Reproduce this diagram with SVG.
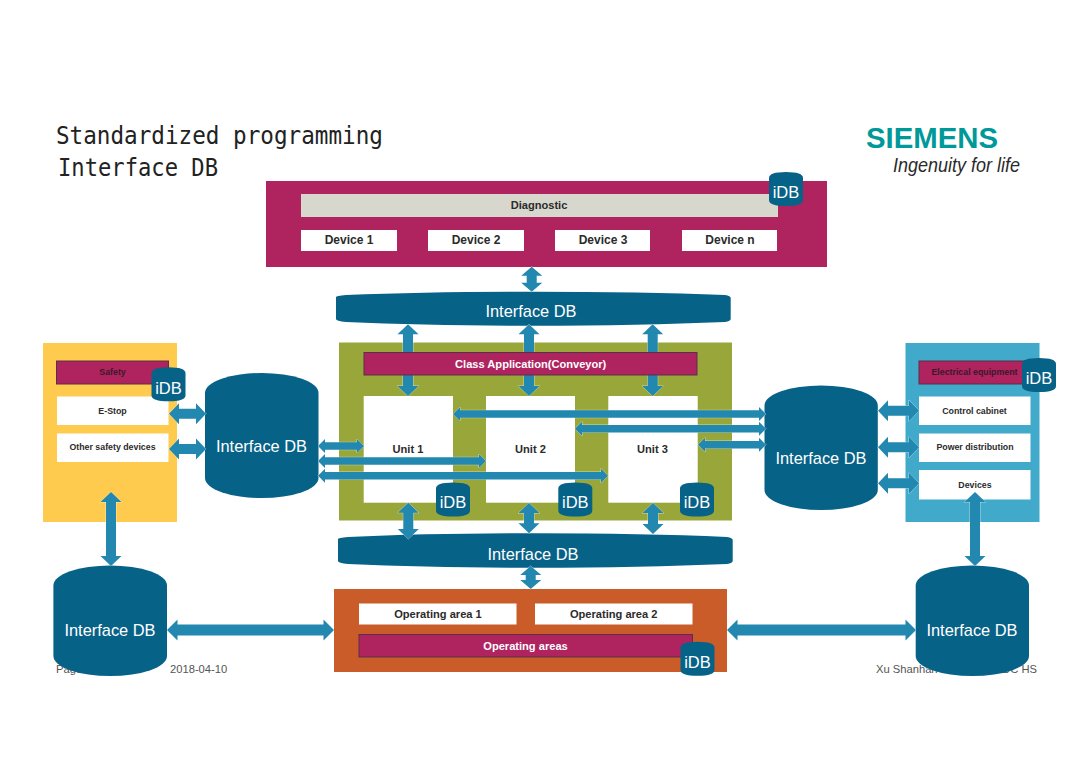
<svg xmlns="http://www.w3.org/2000/svg" width="1080" height="763" viewBox="0 0 1080 763">
  <style>
    text { font-family: "Liberation Sans", Arial, sans-serif; text-anchor: middle; dominant-baseline: central; }
    .title { font-family: "DejaVu Sans Mono", "Liberation Mono", monospace; font-size: 24.5px; fill: #222; text-anchor: start; dominant-baseline: auto; }
    .foot { font-size: 11.2px; fill: #555; }
    .crimson { fill: #AF235F; }
    .bar { fill: #AF235F; stroke: #5A3048; stroke-width: 1; }
    .box { fill: #fff; }
    .db { fill: #076288; }
    .dbt { fill: #fff; font-size: 16.4px; }
    .idbt { fill: #fff; font-size: 16.5px; }
    .lbl { fill: #2b2b2b; font-weight: bold; font-size: 11.1px; }
    .sm { fill: #2b2b2b; font-weight: bold; font-size: 8.8px; }
    .barlbl { fill: #3a1a2a; font-weight: bold; font-size: 8.8px; }
    .wlbl { fill: #fff; font-weight: bold; font-size: 11.1px; }
    #connectors polygon { fill: #2288B0; stroke: #fff; stroke-opacity: .55; stroke-width: 1; paint-order: stroke; }
  </style>
  <defs>
    <path id="can" d="M0 6 Q0 0 17 0 Q34 0 34 6 V28 Q34 34 17 34 Q0 34 0 28 Z"/>
  </defs>

  <rect width="1080" height="763" fill="#fff"/>

  <g id="heading">
    <text class="title" x="56" y="143.5" textLength="327" lengthAdjust="spacingAndGlyphs">Standardized programming</text>
    <text class="title" x="58" y="175.5" textLength="160" lengthAdjust="spacingAndGlyphs">Interface DB</text>
  </g>

  <g id="logo">
    <text x="866" y="138" style="text-anchor:start" font-size="29" font-weight="bold" fill="#009999" textLength="132" lengthAdjust="spacingAndGlyphs">SIEMENS</text>
    <text x="893" y="165" style="text-anchor:start" font-family="Liberation Serif" font-size="20" font-style="italic" fill="#2a2a2a" textLength="127" lengthAdjust="spacingAndGlyphs">Ingenuity for life</text>
  </g>

  <g id="footer">
    <text class="foot" x="56" y="669" style="text-anchor:start">Page</text>
    <text class="foot" x="170" y="669" style="text-anchor:start">2018-04-10</text>
    <text class="foot" x="876" y="669" style="text-anchor:start">Xu Shanhan</text>
    <text class="foot" x="1037" y="669" style="text-anchor:end">DC HS</text>
  </g>

  <g id="diagnostic-panel">
    <rect class="crimson" x="266" y="181" width="561" height="86"/>
    <rect x="301" y="194" width="477" height="23" fill="#D7D7CD"/>
    <text class="lbl" x="539" y="205">Diagnostic</text>
  </g>
  <g id="device-1"><rect class="box" x="301" y="230" width="96" height="21"/><text class="lbl" style="font-size:12px" x="349" y="240">Device 1</text></g>
  <g id="device-2"><rect class="box" x="428" y="230" width="96" height="21"/><text class="lbl" style="font-size:12px" x="476" y="240">Device 2</text></g>
  <g id="device-3"><rect class="box" x="555" y="230" width="95" height="21"/><text class="lbl" style="font-size:12px" x="603" y="240">Device 3</text></g>
  <g id="device-n"><rect class="box" x="682" y="230" width="95" height="21"/><text class="lbl" style="font-size:12px" x="730" y="240">Device n</text></g>

  <g id="safety-panel">
    <rect x="43" y="343" width="134" height="179" fill="#FFCB4F"/>
    <rect class="bar" x="56.5" y="361" width="112" height="23"/>
    <text class="barlbl" x="112.5" y="372">Safety</text>
    <rect class="box" x="57" y="396.5" width="111.5" height="28.5"/>
    <text class="sm" x="112.5" y="411">E-Stop</text>
    <rect class="box" x="57" y="433.5" width="111.5" height="28.5"/>
    <text class="sm" x="112.5" y="447">Other safety devices</text>
  </g>

  <g id="electrical-panel">
    <rect x="905.5" y="343" width="134" height="179" fill="#41A9C9"/>
    <rect class="bar" x="919" y="361" width="112" height="23"/>
    <text class="barlbl" x="974.5" y="372">Electrical equipment</text>
    <rect class="box" x="919" y="396.5" width="111.5" height="28.5"/>
    <text class="sm" x="974.5" y="411">Control cabinet</text>
    <rect class="box" x="919" y="433.5" width="111.5" height="28.5"/>
    <text class="sm" x="975" y="447">Power distribution</text>
    <rect class="box" x="919" y="470" width="111.5" height="29.5"/>
    <text class="sm" x="975" y="485">Devices</text>
  </g>

  <g id="application-panel">
    <rect x="339" y="342.5" width="393" height="178" fill="#99A73A"/>
    <rect class="box" x="363.7" y="396" width="89.3" height="106.7"/>
    <rect class="box" x="486" y="396" width="89" height="106.7"/>
    <rect class="box" x="608.3" y="396" width="89.4" height="106.7"/>
    <text class="lbl" x="408" y="449">Unit 1</text>
    <text class="lbl" x="530.5" y="449">Unit 2</text>
    <text class="lbl" x="652.5" y="449">Unit 3</text>
  </g>

  <g id="operating-panel">
    <rect x="334" y="589" width="393" height="83" fill="#C95C28"/>
    <rect class="box" x="359" y="603.5" width="157.5" height="21"/>
    <text class="lbl" x="438" y="614">Operating area 1</text>
    <rect class="box" x="535" y="603.5" width="157.5" height="21"/>
    <text class="lbl" x="613.7" y="614">Operating area 2</text>
  </g>

  <g id="db-upper">
    <path class="db" d="M336 297 Q336 296 346 295 Q430 291.7 533 291.7 Q640 291.7 725 295 Q730.7 296 730.7 298 V319 Q730.7 321 725 322 Q640 325.7 533 325.7 Q430 325.7 346 322 Q336 321 336 319 Z"/>
    <text class="dbt" x="531" y="311">Interface DB</text>
  </g>
  <g id="db-lower">
    <path class="db" d="M338 539 Q338 538 348 537 Q432 533.3 535 533.3 Q642 533.3 727 537 Q732.7 538 732.7 540 V561 Q732.7 563 727 564 Q642 567.7 535 567.7 Q432 567.7 348 564 Q338 563 338 561 Z"/>
    <text class="dbt" x="533" y="554">Interface DB</text>
  </g>
  <g id="db-left">
    <path class="db" d="M205 393 A56.75 20 0 0 1 318.5 393 V478 A56.75 20 0 0 1 205 478 Z"/>
    <text class="dbt" x="261.5" y="446">Interface DB</text>
  </g>
  <g id="db-right">
    <path class="db" d="M764.5 405.5 A56.65 20 0 0 1 877.8 405.5 V490 A56.65 20 0 0 1 764.5 490 Z"/>
    <text class="dbt" x="821" y="458">Interface DB</text>
  </g>
  <g id="db-bottom-left">
    <path class="db" d="M53.4 585.5 A56.8 20 0 0 1 167 585.5 V656 A56.8 20 0 0 1 53.4 656 Z"/>
    <text class="dbt" x="110" y="630">Interface DB</text>
  </g>
  <g id="db-bottom-right">
    <path class="db" d="M915.7 585.5 A56.65 20 0 0 1 1029 585.5 V656 A56.65 20 0 0 1 915.7 656 Z"/>
    <text class="dbt" x="972" y="630">Interface DB</text>
  </g>

  <g id="connectors">
    <polygon points="531.7,266.7 542.2,275.7 536.7,275.7 536.7,282.7 542.2,282.7 531.7,291.7 521.2,282.7 526.7,282.7 526.7,275.7 521.2,275.7"/>
    <polygon points="530.7,566 541.2,575 535.7,575 535.7,580 541.2,580 530.7,589 520.2,580 525.7,580 525.7,575 520.2,575"/>
    <polygon points="408,324.3 418.5,334.3 413,334.3 413,386 418.5,386 408,396 397.5,386 403,386 403,334.3 397.5,334.3"/>
    <polygon points="529,324.3 539.5,334.3 534,334.3 534,386 539.5,386 529,396 518.5,386 524,386 524,334.3 518.5,334.3"/>
    <polygon points="652.7,324.3 663.2,334.3 657.7,334.3 657.7,386 663.2,386 652.7,396 642.2,386 647.7,386 647.7,334.3 642.2,334.3"/>
    <polygon points="408.3,502.7 418.8,512.7 413.3,512.7 413.3,529 418.8,529 408.3,539 397.8,529 403.3,529 403.3,512.7 397.8,512.7"/>
    <polygon points="529,503 539.5,513 534,513 534,523.3 539.5,523.3 529,533.3 518.5,523.3 524,523.3 524,513 518.5,513"/>
    <polygon points="653,503 663.5,513 658,513 658,524 663.5,524 653,534 642.5,524 648,524 648,513 642.5,513"/>
    <polygon points="169,413.7 179,403.2 179,408.7 196,408.7 196,403.2 206,413.7 196,424.2 196,418.7 179,418.7 179,424.2"/>
    <polygon points="169,449 179,438.5 179,444 196,444 196,438.5 206,449 196,459.5 196,454 179,454 179,459.5"/>
    <polygon points="318,446 325,439 325,442.3 357,442.3 357,439 364,446 357,453 357,449.7 325,449.7 325,453"/>
    <polygon points="318,461 325,454 325,457.3 479,457.3 479,454 486,461 479,468 479,464.7 325,464.7 325,468"/>
    <polygon points="318,475.7 325,468.7 325,472 601,472 601,468.7 608,475.7 601,482.7 601,479.4 325,479.4 325,482.7"/>
    <polygon points="453,414 460,407 460,410.3 759,410.3 759,407 766,414 759,421 759,417.7 460,417.7 460,421"/>
    <polygon points="575,428.7 582,421.7 582,425 759,425 759,421.7 766,428.7 759,435.7 759,432.4 582,432.4 582,435.7"/>
    <polygon points="698,444.7 705,437.7 705,441 759,441 759,437.7 766,444.7 759,451.7 759,448.4 705,448.4 705,451.7"/>
    <polygon points="878,410.7 888,400.2 888,405.7 909,405.7 909,400.2 919,410.7 909,421.2 909,415.7 888,415.7 888,421.2"/>
    <polygon points="878,447.3 888,436.8 888,442.3 909,442.3 909,436.8 919,447.3 909,457.8 909,452.3 888,452.3 888,457.8"/>
    <polygon points="878,483.3 888,472.8 888,478.3 909,478.3 909,472.8 919,483.3 909,493.8 909,488.3 888,488.3 888,493.8"/>
    <polygon points="111,492 121.5,502 116,502 116,556 121.5,556 111,566 100.5,556 106,556 106,502 100.5,502"/>
    <polygon points="975,492 985.5,502 980,502 980,556 985.5,556 975,566 964.5,556 970,556 970,502 964.5,502"/>
    <polygon points="167,630 177.5,619.5 177.5,624.5 323.5,624.5 323.5,619.5 334,630 323.5,640.5 323.5,635.5 177.5,635.5 177.5,640.5"/>
    <polygon points="727,630 737.5,619.5 737.5,624.5 905.5,624.5 905.5,619.5 916,630 905.5,640.5 905.5,635.5 737.5,635.5 737.5,640.5"/>
  </g>

  <g id="class-application">
    <rect class="bar" x="364" y="352.5" width="333" height="22.5"/>
    <text class="wlbl" x="530.7" y="363.5">Class Application(Conveyor)</text>
  </g>
  <g id="operating-areas">
    <rect class="bar" x="359" y="634.5" width="333.5" height="22.5"/>
    <text class="wlbl" x="525.5" y="645.5">Operating areas</text>
  </g>

  <g id="idb-diagnostic"><use class="db" href="#can" x="769" y="172"/><text class="idbt" x="786" y="192">iDB</text></g>
  <g id="idb-safety"><use class="db" href="#can" x="151.5" y="367.3"/><text class="idbt" x="168.5" y="387.5">iDB</text></g>
  <g id="idb-electrical"><use class="db" href="#can" x="1022" y="358"/><text class="idbt" x="1039" y="378">iDB</text></g>
  <g id="idb-unit-1"><use class="db" href="#can" x="436" y="482.5"/><text class="idbt" x="453" y="502">iDB</text></g>
  <g id="idb-unit-2"><use class="db" href="#can" x="558.3" y="482.5"/><text class="idbt" x="575.3" y="502">iDB</text></g>
  <g id="idb-unit-3"><use class="db" href="#can" x="680" y="482.5"/><text class="idbt" x="697" y="502">iDB</text></g>
  <g id="idb-operating"><use class="db" href="#can" x="680.5" y="641.7"/><text class="idbt" x="697.5" y="661.5">iDB</text></g>
</svg>
